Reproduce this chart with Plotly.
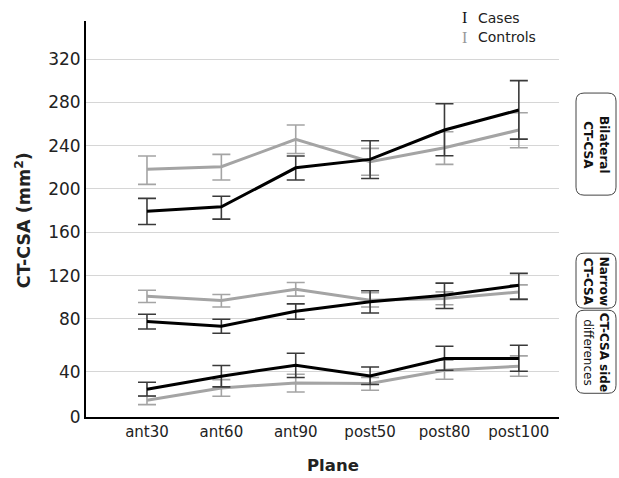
import plotly.graph_objects as go

# ---------------- data ----------------
planes = ["ant30", "ant60", "ant90", "post50", "post80", "post100"]
series_names = ["Cases", "Controls"]
panel_labels = ["<b>Bilateral</b><br><b>CT-CSA</b>", "<b>Narrow</b><br><b>CT-CSA</b>",
                "<b>CT-CSA side</b><br>differences"]

bil_cases = [179.5, 183.5, 219.5, 227.3, 254.4, 272.9]
bil_cases_hi = [191.3, 193.3, 230.4, 244.5, 278.7, 300.0]
bil_cases_lo = [167.2, 172.1, 208.2, 209.7, 230.6, 246.0]
bil_ctrl = [218.1, 220.5, 245.8, 225.1, 238.0, 254.4]
bil_ctrl_hi = [230.4, 231.9, 259.0, 237.5, 252.8, 270.4]
bil_ctrl_lo = [204.2, 208.2, 232.8, 212.7, 222.7, 238.0]

nar_cases = [77.5, 73.2, 87.1, 95.8, 101.9, 111.1]
nar_cases_hi = [84.3, 79.7, 93.9, 106.0, 113.0, 122.0]
nar_cases_lo = [70.7, 66.7, 79.7, 85.5, 89.6, 98.0]
nar_ctrl = [101.0, 97.0, 107.4, 97.3, 98.8, 104.9]
nar_ctrl_hi = [106.5, 102.5, 113.6, 104.1, 104.9, 111.4]
nar_ctrl_lo = [95.2, 91.0, 101.0, 91.0, 93.0, 98.4]

diff_cases = [24.6, 36.2, 46.0, 36.4, 51.9, 51.9]
diff_cases_hi = [30.8, 45.7, 56.6, 44.4, 62.8, 63.7]
diff_cases_lo = [18.7, 26.7, 35.0, 28.8, 41.5, 40.6]
diff_ctrl = [14.8, 25.8, 30.2, 29.7, 41.5, 45.0]
diff_ctrl_hi = [18.4, 33.2, 38.0, 35.0, 50.4, 54.2]
diff_ctrl_lo = [11.0, 18.4, 22.2, 23.7, 33.5, 36.2]

top_ticks = [80, 120, 160, 200, 240, 280, 320]
bottom_ticks = [0, 40]

# ---------------- styling / layout helpers ----------------
W, H = 619, 478
L, R, T, B = 86, 60, 21, 61.3
PW, PH = W - L - R, H - T - B
split_px = 339.0
bd = (H - B - split_px) / PH

FONT = "DejaVu Sans"
CASE_COL, CASE_ERR = "#000000", "#3a3a3a"
CTRL_COL, CTRL_ERR = "#a4a4a4", "#a4a4a4"


def px2x(px):
    return (px - L) / PW


def py2y(py):
    return (H - B - py) / PH


fig = go.Figure()


def add_series(mean, hi, lo, color, ecolor, xa, ya):
    fig.add_trace(go.Scatter(
        x=planes, y=mean, mode="lines", xaxis=xa, yaxis=ya,
        line=dict(color=color, width=3),
        error_y=dict(type="data", symmetric=False,
                     array=[h - m for h, m in zip(hi, mean)],
                     arrayminus=[m - l for m, l in zip(mean, lo)],
                     color=ecolor, thickness=1.6, width=9),
        showlegend=False, hoverinfo="skip"))


# controls first (beneath), then cases
add_series(bil_ctrl, bil_ctrl_hi, bil_ctrl_lo, CTRL_COL, CTRL_ERR, "x2", "y")
add_series(nar_ctrl, nar_ctrl_hi, nar_ctrl_lo, CTRL_COL, CTRL_ERR, "x2", "y")
add_series(diff_ctrl, diff_ctrl_hi, diff_ctrl_lo, CTRL_COL, CTRL_ERR, "x", "y2")
add_series(bil_cases, bil_cases_hi, bil_cases_lo, CASE_COL, CASE_ERR, "x2", "y")
add_series(nar_cases, nar_cases_hi, nar_cases_lo, CASE_COL, CASE_ERR, "x2", "y")
add_series(diff_cases, diff_cases_hi, diff_cases_lo, CASE_COL, CASE_ERR, "x", "y2")

common_y = dict(showgrid=True, gridcolor="#d6d6d6", gridwidth=1, showline=True,
                linecolor="black", linewidth=2, ticks="", zeroline=False, automargin=False,
                tickfont=dict(family=FONT, size=17, color="#222222"), fixedrange=True)

fig.update_layout(
    template="none",
    width=W, height=H,
    margin=dict(l=L, r=R, t=T, b=B, autoexpand=False),
    paper_bgcolor="white", plot_bgcolor="white",
    font=dict(family=FONT, color="#222222"),
    showlegend=False,
    xaxis=dict(domain=[0, 1], anchor="y2", type="category",
               categoryorder="array", categoryarray=planes, automargin=False,
               range=[-0.82, 5.54], showline=True, linecolor="black", linewidth=2,
               showgrid=False, ticks="", zeroline=False, fixedrange=True,
               tickfont=dict(family=FONT, size=15, color="#222222")),
    xaxis2=dict(domain=[0, 1], anchor="y", matches="x", visible=False, automargin=False,
                type="category", categoryorder="array", categoryarray=planes),
    yaxis=dict(domain=[bd, 1], anchor="x2", range=[61.2, 355.1],
               tickvals=top_ticks, **common_y),
    yaxis2=dict(domain=[0, bd], anchor="x", range=[0, 69],
                tickvals=bottom_ticks, **common_y),
)

ann = []
# axis titles
ann.append(dict(text="<b>CT-CSA (mm<sup>2</sup>)</b>", x=px2x(23), y=py2y(220), xref="paper", yref="paper",
                textangle=-90, showarrow=False, xanchor="center", yanchor="middle",
                font=dict(family=FONT, size=17.5, color="#222222")))
ann.append(dict(text="<b>Plane</b>", x=px2x(333), y=py2y(465), xref="paper", yref="paper",
                showarrow=False, xanchor="center", yanchor="middle",
                font=dict(family=FONT, size=16.5, color="#222222")))

# legend
for name, col, py in [(series_names[0], "#111111", 18), (series_names[1], "#999999", 37)]:
    ann.append(dict(text="I", x=px2x(464), y=py2y(py), xref="paper", yref="paper",
                    showarrow=False, xanchor="center", yanchor="middle",
                    font=dict(family="Liberation Serif", size=16, color=col)))
    ann.append(dict(text=name, x=px2x(476), y=py2y(py), xref="paper", yref="paper",
                    showarrow=False, xanchor="left", yanchor="middle",
                    font=dict(family=FONT, size=14, color="#222222")))

# panel strips (rounded boxes)
boxes = [(93, 195), (253, 308), (310, 393)]
bx0, bx1 = 576, 616
shapes = []
for (y0p, y1p), lab in zip(boxes, panel_labels):
    r = 8
    x0, x1 = px2x(bx0), px2x(bx1)
    y0, y1 = py2y(y0p), py2y(y1p)
    rx, ry = r / PW, r / PH
    path = (f"M {x0+rx},{y0} L {x1-rx},{y0} Q {x1},{y0} {x1},{y0-ry} "
            f"L {x1},{y1+ry} Q {x1},{y1} {x1-rx},{y1} L {x0+rx},{y1} "
            f"Q {x0},{y1} {x0},{y1+ry} L {x0},{y0-ry} Q {x0},{y0} {x0+rx},{y0} Z")
    shapes.append(dict(type="path", path=path, xref="paper", yref="paper",
                       line=dict(color="#444444", width=1)))
    ann.append(dict(text=lab, x=px2x((bx0 + bx1) / 2), y=py2y((y0p + y1p) / 2),
                    xref="paper", yref="paper", textangle=90, showarrow=False,
                    xanchor="center", yanchor="middle",
                    font=dict(family=FONT, size=12, color="#111111")))

fig.update_layout(annotations=ann, shapes=shapes)
fig.write_html("out.html", config={"displayModeBar": False, "staticPlot": True},
               post_script="document.body.style.margin='0';document.body.style.padding='0';")
